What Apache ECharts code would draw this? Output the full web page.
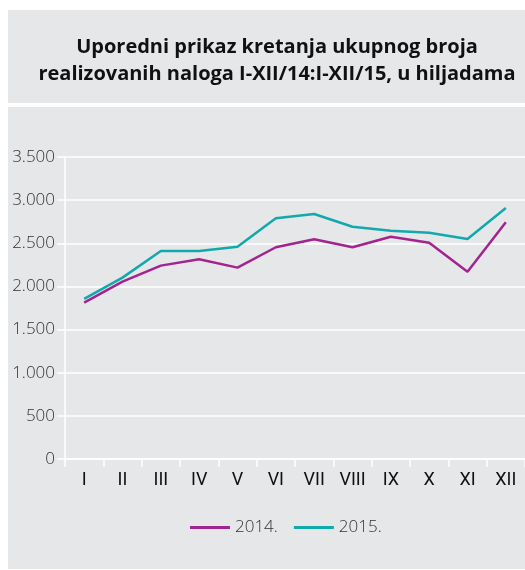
<!DOCTYPE html>
<html>
<head>
<meta charset="utf-8">
<script src="https://cdn.jsdelivr.net/npm/echarts@6.0.0/dist/echarts.min.js"></script>
<style>
  html, body { margin: 0; padding: 0; background: #fff; }
  #chart { width: 525px; height: 570px; }
</style>
</head>
<body>
<div id="chart"></div>
<script>
// meseci I-XII
const months = ["I", "II", "III", "IV", "V", "VI", "VII", "VIII", "IX", "X", "XI", "XII"];
// u hiljadama
const data2014 = [1812, 2056, 2241, 2315, 2218, 2454, 2546, 2454, 2576, 2507, 2171, 2743];
const data2015 = [1855, 2102, 2411, 2411, 2461, 2789, 2839, 2692, 2646, 2623, 2550, 2909];
const yTicks = [0, 500, 1000, 1500, 2000, 2500, 3000, 3500];

const chart = echarts.init(document.getElementById("chart"));

const fmt = (v) => String(v).replace(/\B(?=(\d{3})+(?!\d))/g, ".");

const options = {
  backgroundColor: "#fff",
  animation: false,
  graphic: [
    { type: "rect", z: -10, shape: { x: 8, y: 10, width: 517, height: 93 }, style: { fill: "#e6e7e8" } },
    { type: "rect", z: -10, shape: { x: 8, y: 107, width: 517, height: 462 }, style: { fill: "#e6e7e8" } },
  ],
  title: {
    text: "Uporedni prikaz kretanja ukupnog broja\nrealizovanih naloga I-XII/14:I-XII/15, u hiljadama",
    left: 272,
    top: 29,
    textAlign: "center",
    textStyle: {
      fontFamily: "Open Sans",
      fontWeight: "bold",
      fontSize: 20,
      lineHeight: 27,
      color: "#111",
    },
  },
  legend: {
    data: ["2014.", "2015."],
    left: 185,
    top: 514,
    icon: "rect",
    itemWidth: 40,
    itemHeight: 3,
    itemGap: 16,
    textStyle: { fontFamily: "Open Sans", fontWeight: 300, fontSize: 17, color: "#333" },
  },
  grid: { left: 65, right: -7, top: 157, bottom: 111 },
  xAxis: {
    type: "category",
    data: months,
    boundaryGap: true,
    axisLine: { lineStyle: { color: "#fff", width: 1.5 } },
    axisTick: { show: true, length: 8, lineStyle: { color: "#fff", width: 1.5 } },
    axisLabel: {
      margin: 12,
      fontFamily: "Roboto",
      fontSize: 18,
      color: "#111",
    },
  },
  yAxis: {
    type: "value",
    min: yTicks[0],
    max: yTicks[yTicks.length - 1],
    interval: 500,
    axisLine: { show: true, lineStyle: { color: "#fff", width: 1.5 } },
    axisTick: { show: true, length: 8, lineStyle: { color: "#fff", width: 1.5 } },
    splitLine: { lineStyle: { color: "#fff", width: 1.5 } },
    axisLabel: {
      margin: 10,
      formatter: fmt,
      fontFamily: "Open Sans",
      fontWeight: 300,
      fontSize: 17,
      color: "#333",
    },
  },
  series: [
    {
      name: "2014.",
      type: "line",
      data: data2014,
      symbol: "none",
      lineStyle: { color: "#a3238f", width: 2.5 },
      itemStyle: { color: "#a3238f" },
    },
    {
      name: "2015.",
      type: "line",
      data: data2015,
      symbol: "none",
      lineStyle: { color: "#12a9ad", width: 2.5 },
      itemStyle: { color: "#12a9ad" },
    },
  ],
};
chart.setOption(options);
</script>
</body>
</html>
